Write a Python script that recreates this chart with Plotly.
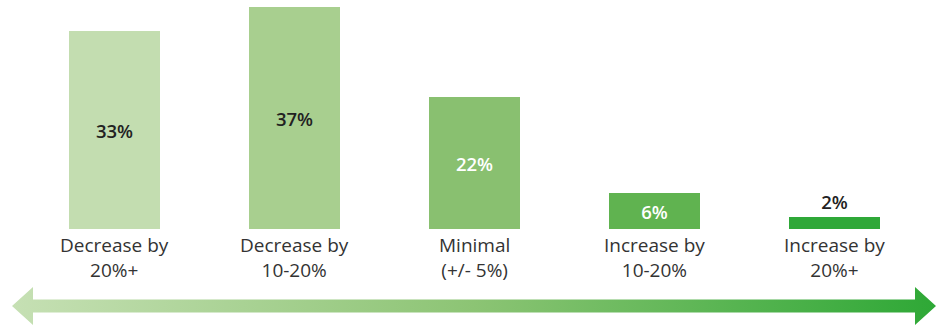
import plotly.graph_objects as go

# Survey response shares by expected change
categories = ["Decrease by<br>20%+", "Decrease by<br>10-20%", "Minimal<br>(+/- 5%)",
              "Increase by<br>10-20%", "Increase by<br>20%+"]
values = [33, 37, 22, 6, 2]
bar_colors = ["#c3ddb0", "#a8cf8f", "#89c070", "#60b350", "#2fa838"]
value_text_colors = ["#222222", "#222222", "#ffffff", "#ffffff", "#222222"]
value_positions = ["inside", "inside", "inside", "inside", "outside"]

W, H = 945, 327
FONT = "Open Sans"

fig = go.Figure()

fig.add_trace(go.Bar(
    x=list(range(len(categories))),
    y=values,
    width=91 / 180,
    marker=dict(color=bar_colors, line=dict(width=0)),
    text=[f"{v}%" for v in values],
    textposition=value_positions,
    insidetextanchor="middle",
    textfont=dict(family=FONT, size=18.5, color=value_text_colors, weight=600),
    outsidetextfont=dict(family=FONT, size=18.5, color=value_text_colors, weight=600),
    cliponaxis=False,
    hoverinfo="skip",
    showlegend=False,
))

# Double-headed arrow along the bottom, shaded light to dark green
ax = [12, 33, 33, 915, 915, 936, 915, 915, 33, 33, 12]
ay = [306, 287, 299.5, 299.5, 287, 306, 325, 312.5, 312.5, 325, 306]
fig.add_trace(go.Scatter(
    x=ax, y=ay,
    xaxis="x2", yaxis="y2",
    mode="lines",
    line=dict(width=0),
    fill="toself",
    fillgradient=dict(type="horizontal",
                      colorscale=[[0, "#c6e0b4"], [0.5, "#8cc474"], [1, "#2ea836"]]),
    hoverinfo="skip",
    showlegend=False,
))

# Two-line category labels under each bar
for i, label in enumerate(categories):
    fig.add_annotation(
        x=i, xref="x",
        y=(H - 257.5) / H, yref="paper",
        text=label, showarrow=False,
        xanchor="center", yanchor="middle",
        font=dict(family=FONT, size=19, color="#333333"),
    )

fig.update_layout(
    width=W, height=H,
    margin=dict(l=0, r=0, t=0, b=0),
    paper_bgcolor="white",
    plot_bgcolor="white",
    xaxis=dict(domain=[24.5 / W, 924.5 / W], range=[-0.5, 4.5], visible=False),
    yaxis=dict(domain=[(H - 229) / H, (H - 5) / H], range=[0, 224 / 6], visible=False),
    xaxis2=dict(domain=[0, 1], range=[0, W], visible=False, anchor="y2"),
    yaxis2=dict(domain=[0, 47 / H], range=[327, 280], visible=False, anchor="x2"),
)

fig.write_html("out.html")
